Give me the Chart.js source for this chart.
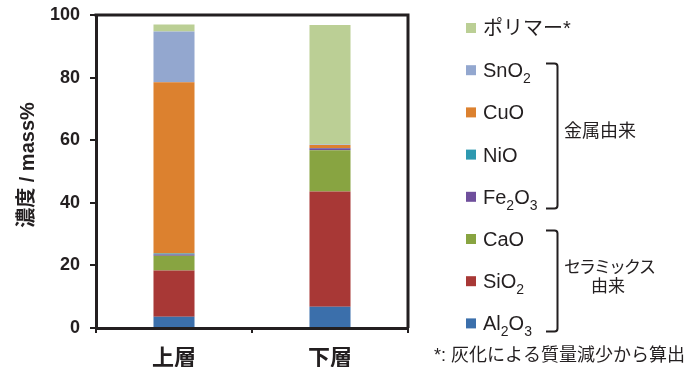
<!DOCTYPE html>
<html>
<head>
<meta charset="utf-8">
<script src="https://cdn.jsdelivr.net/npm/chart.js@4/dist/chart.umd.min.js"></script>
<style>
  html, body { margin: 0; padding: 0; background: #ffffff; }
  canvas { display: block; }
</style>
</head>
<body>
<canvas id="chart" width="700" height="367"></canvas>
<script>
// Layers of the sample (x categories)
const categories = ['上層', '下層'];

// Composition of each layer, mass%
const al2o3   = [3.6, 6.8];
const sio2    = [14.8, 36.8];
const cao     = [4.7, 13.2];
const fe2o3   = [0.4, 0.6];
const nio     = [0.3, 0.1];
const cuo     = [54.7, 1.0];
const sno2    = [16.2, 0.1];
const polymer = [2.3, 38.2];

// Y axis ticks
const yTicks = [0, 20, 40, 60, 80, 100];

// Group labels shown beside the legend
const metalGroup = '金属由来';
const ceramicGroup = ['セラミックス', '由来'];
const footnote = '*: 灰化による質量減少から算出';
const yTitleJa = '濃度';
const yTitleUnit = ' / mass%';

const INK = '#231f20';
const FONT = '"Liberation Sans", Arial, "Noto Sans CJK JP", sans-serif';

// Stack order bottom -> top
const series = [
  { label: 'Al₂O₃',   data: al2o3,   color: '#3b6fab' },
  { label: 'SiO₂',    data: sio2,    color: '#a83836' },
  { label: 'CaO',     data: cao,     color: '#88a441' },
  { label: 'Fe₂O₃',   data: fe2o3,   color: '#6f4f9c' },
  { label: 'NiO',     data: nio,     color: '#2e99b0' },
  { label: 'CuO',     data: cuo,     color: '#dc812f' },
  { label: 'SnO₂',    data: sno2,    color: '#93a7cf' },
  { label: 'ポリマー*', data: polymer, color: '#bbcf95' }
];

const SUBS = { '₂': '2', '₃': '3' };

// Draw a label where ₂/₃ are rendered as lowered small digits
function drawRich(ctx, text, x, y, size) {
  let cx = x;
  for (const ch of text) {
    if (SUBS[ch]) {
      ctx.font = Math.round(size * 0.68) + 'px ' + FONT;
      ctx.fillText(SUBS[ch], cx, y + 6);
      cx += ctx.measureText(SUBS[ch]).width;
    } else {
      ctx.font = size + 'px ' + FONT;
      ctx.fillText(ch, cx, y);
      cx += ctx.measureText(ch).width;
    }
  }
}

function bracket(ctx, x0, x1, yTop, yBot) {
  const r = 3;
  ctx.beginPath();
  ctx.moveTo(x0, yTop);
  ctx.lineTo(x1 - r, yTop);
  ctx.quadraticCurveTo(x1, yTop, x1, yTop + r);
  ctx.lineTo(x1, yBot - r);
  ctx.quadraticCurveTo(x1, yBot, x1 - r, yBot);
  ctx.lineTo(x0, yBot);
  ctx.stroke();
}

const decorations = {
  id: 'decorations',
  afterDraw(chart) {
    const ctx = chart.ctx;
    const area = chart.chartArea;
    ctx.save();

    // frame: top and right edges
    ctx.strokeStyle = INK;
    ctx.lineWidth = 3;
    ctx.beginPath();
    ctx.moveTo(area.left - 1.5, area.top);
    ctx.lineTo(area.right, area.top);
    ctx.lineTo(area.right, area.bottom);
    ctx.stroke();

    // y title, rotated
    ctx.translate(27, 165);
    ctx.rotate(-Math.PI / 2);
    ctx.fillStyle = INK;
    ctx.textBaseline = 'middle';
    ctx.font = 'bold 20px ' + FONT;
    const w1 = ctx.measureText(yTitleJa).width;
    const w2 = ctx.measureText(yTitleUnit).width;
    let sx = -(w1 + w2) / 2;
    ctx.fillText(yTitleJa, sx, 0);
    ctx.fillText(yTitleUnit, sx + w1, 1);
    ctx.setTransform(1, 0, 0, 1, 0, 0);

    // legend, top entry = top of stack
    const ds = chart.data.datasets.slice().reverse();
    ctx.textBaseline = 'alphabetic';
    ds.forEach((d, i) => {
      const cy = 28 + i * 42.2;
      ctx.fillStyle = d.backgroundColor;
      ctx.fillRect(466, cy - 5, 10, 10);
      ctx.fillStyle = INK;
      drawRich(ctx, d.label, 483, cy + 7, 20);
    });

    // group brackets
    ctx.strokeStyle = INK;
    ctx.lineWidth = 2;
    bracket(ctx, 546, 557.5, 63.5, 208.5);
    bracket(ctx, 546, 557.5, 230.5, 331.5);

    ctx.fillStyle = INK;
    ctx.textBaseline = 'middle';
    ctx.font = '18px ' + FONT;
    ctx.textAlign = 'left';
    ctx.fillText(metalGroup, 564, 132);
    ctx.font = '17px ' + FONT;
    ctx.letterSpacing = '-2px';
    const wc = ctx.measureText(ceramicGroup[0]).width;
    ctx.fillText(ceramicGroup[0], 608 - wc / 2 + 1, 268);
    ctx.letterSpacing = '0px';
    ctx.textAlign = 'center';
    ctx.fillText(ceramicGroup[1], 608, 287);

    ctx.textAlign = 'left';
    ctx.font = '18px ' + FONT;
    ctx.fillText(footnote, 434, 356);

    ctx.restore();
  }
};

new Chart(document.getElementById('chart'), {
  type: 'bar',
  data: {
    labels: categories,
    datasets: series.map(s => ({
      label: s.label,
      data: s.data,
      backgroundColor: s.color,
      borderWidth: 0,
      categoryPercentage: 1,
      barPercentage: 0.263
    }))
  },
  options: {
    responsive: false,
    animation: false,
    layout: { padding: { top: 15, right: 292, left: 0, bottom: 0 } },
    plugins: {
      legend: { display: false },
      tooltip: { enabled: false }
    },
    scales: {
      x: {
        stacked: true,
        offset: true,
        afterFit(scale) { scale.height = 39; scale.paddingLeft = 0; scale.paddingRight = 0; },
        border: { color: INK, width: 3 },
        grid: { display: true, drawOnChartArea: false, drawTicks: true, offset: true, tickLength: 5, color: INK, lineWidth: 2 },
        ticks: { color: INK, font: { family: FONT, size: 22, weight: 'bold' }, padding: 13 }
      },
      y: {
        stacked: true,
        min: 0,
        max: 100,
        afterFit(scale) { scale.width = 96; scale.paddingTop = 0; scale.paddingBottom = 0; },
        afterBuildTicks(scale) { scale.ticks = yTicks.map(v => ({ value: v })); },
        border: { color: INK, width: 3 },
        grid: { display: true, drawOnChartArea: false, drawTicks: true, tickLength: 6, color: INK, lineWidth: 2 },
        ticks: { color: INK, font: { family: FONT, size: 18, weight: 'bold' }, padding: 10 }
      }
    }
  },
  plugins: [decorations]
});
</script>
</body>
</html>
